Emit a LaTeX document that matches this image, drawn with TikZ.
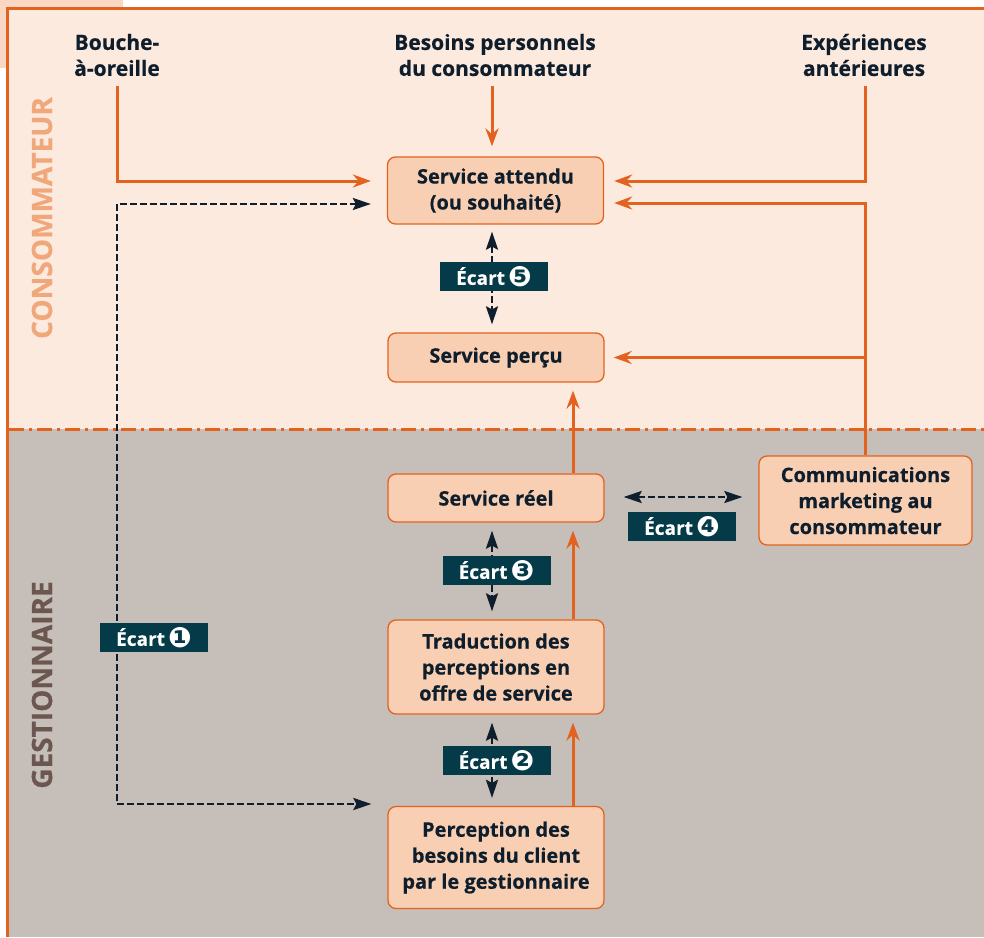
\documentclass[tikz,border=0pt]{standalone}
\usepackage{fontspec}
\setmainfont{Open Sans}[BoldFeatures={FakeBold=0.4}]
\newfontfamily\dejavu{DejaVu Sans}
\usetikzlibrary{arrows.meta}
\definecolor{orng}{HTML}{E2621F}
\definecolor{upperfill}{HTML}{FDEADF}
\definecolor{lowerfill}{HTML}{C6BEB9}
\definecolor{boxfill}{HTML}{F9CFB3}
\definecolor{topsq}{HTML}{F9D7C2}
\definecolor{teal}{HTML}{053B49}
\definecolor{ink}{HTML}{0F1E2C}
\definecolor{consom}{HTML}{F0A77A}
\definecolor{gest}{HTML}{6B5650}
\tikzset{
  boxnode/.style={draw=orng, fill=boxfill, rounded corners=8pt, line width=1.3pt,
    minimum width=216pt, align=center, text=ink, inner sep=0pt,
    font=\fontsize{20}{26}\selectfont\bfseries},
  toptext/.style={align=center, text=ink, inner sep=0pt,
    font=\fontsize{21}{26}\selectfont\bfseries},
  ecart/.style={fill=teal, text=white, minimum width=108pt, minimum height=29pt,
    inner sep=0pt, font=\fontsize{19}{22}\selectfont\bfseries},
  oarrow/.style={draw=orng, line width=3pt, -{Stealth[length=18pt,width=13pt]}},
  darrow/.style={draw=ink, line width=2.5pt, dash pattern=on 7pt off 3pt,
    {Stealth[length=18pt,width=12pt,inset=3pt]}-{Stealth[length=18pt,width=12pt,inset=3pt]}},
  sidelabel/.style={rotate=90, inner sep=0pt, font=\fontsize{28}{30}\selectfont\bfseries}
}
\newcommand{\circnum}[1]{{\dejavu\fontsize{28}{22}\selectfont\raisebox{-1.5pt}{#1}}}
\begin{document}
\begin{tikzpicture}[x=1pt,y=-1pt]
\useasboundingbox (0,0) rectangle (984,937);
% backgrounds
\fill[topsq] (0,0) rectangle (123,68);
\fill[upperfill] (8,8) rectangle (984,429);
\fill[lowerfill] (8,429) rectangle (984,937);
\draw[orng, line width=3pt] (7.5,937) -- (7.5,8) -- (984,8);
\draw[orng, line width=3pt, dash pattern=on 15pt off 5pt on 3pt off 5pt] (9,429) -- (984,429);

% side labels
\node[sidelabel, text=consom] (lcons) at (42,218) {CONSOMMATEUR};
\node[sidelabel, text=gest] (lgest) at (42,685) {GESTIONNAIRE};

% top texts
\node[toptext] (bo) at (117,55) {Bouche-\\à-oreille};
\node[toptext] (be) at (495,55) {Besoins personnels\\du consommateur};
\node[toptext] (ex) at (864,55) {Expériences\\antérieures};

% boxes
\node[boxnode, minimum height=67pt] (att) at (495.5,190.5) {Service attendu\\(ou souhaité)};
\node[boxnode, minimum height=49pt] (percu) at (496,357.5) {Service perçu};
\node[boxnode, minimum height=48pt] (reel) at (496,498) {Service réel};
\node[boxnode, minimum height=94pt] (trad) at (496,667) {Traduction des\\perceptions en\\offre de service};
\node[boxnode, minimum height=102pt] (perc) at (496,857.5) {Perception des\\besoins du client\\par le gestionnaire};
\node[boxnode, minimum width=213pt, minimum height=89pt] (comm) at (865.5,500.5) {Communications\\marketing au\\consommateur};

\coordinate (e1top) at (117,204);
\coordinate (e1bot) at (117,804);

% orange connectors
\draw[oarrow, shorten >=16pt, shorten <=10pt] (bo.south) |- ([yshift=9.5pt]att.west);
\draw[oarrow, shorten >=10pt, shorten <=10pt] ([xshift=-3pt]be.south) -- ([xshift=-3.5pt]att.north);
\draw[oarrow, shorten >=10pt, shorten <=10pt] ([xshift=1pt]ex.south) |- ([yshift=9.5pt]att.east);
\draw[oarrow, shorten >=10pt] (comm.north) |- ([yshift=-12.5pt]att.east);
\draw[oarrow, shorten >=9pt] (comm.north |- percu.east) -- (percu.east);
\draw[oarrow, shorten >=8pt] ([xshift=77pt]reel.north) -- ([xshift=77pt]percu.south);
\draw[oarrow, shorten >=8pt] ([xshift=77pt]trad.north) -- ([xshift=77pt]reel.south);
\draw[oarrow, shorten >=8pt] ([xshift=77pt]perc.north) -- ([xshift=77pt]trad.south);

% dark dashed connectors
\draw[darrow, shorten >=8pt, shorten <=7pt] ([xshift=-3.5pt]att.south) -- ([xshift=-4pt]percu.north);
\draw[darrow, shorten >=8pt, shorten <=8pt] ([xshift=-4pt]reel.south) -- ([xshift=-4pt]trad.north);
\draw[darrow, shorten >=8pt, shorten <=8pt] ([xshift=-4pt]trad.south) -- ([xshift=-4pt]perc.north);
\draw[darrow, shorten >=16pt, shorten <=19pt] ([yshift=1pt]reel.east) -- ([yshift=1pt]reel.east -| comm.west);
\draw[darrow, shorten >=16pt, shorten <=16pt] ([yshift=-13.5pt]att.west) -- (e1top) -- (e1bot) -- ([yshift=53.5pt]perc.west);

% ecart labels
\node[ecart] (g5) at (494,276.5) {Écart\,\circnum{❺}};
\node[ecart] (g3) at (496.5,570.5) {Écart\,\circnum{❸}};
\node[ecart] (g2) at (496.5,760.5) {Écart\,\circnum{❷}};
\node[ecart] (g4) at (682,526.5) {Écart\,\circnum{❹}};
\node[ecart] (g1) at (154,637.5) {Écart\,\circnum{❶}};
\end{tikzpicture}
\end{document}
